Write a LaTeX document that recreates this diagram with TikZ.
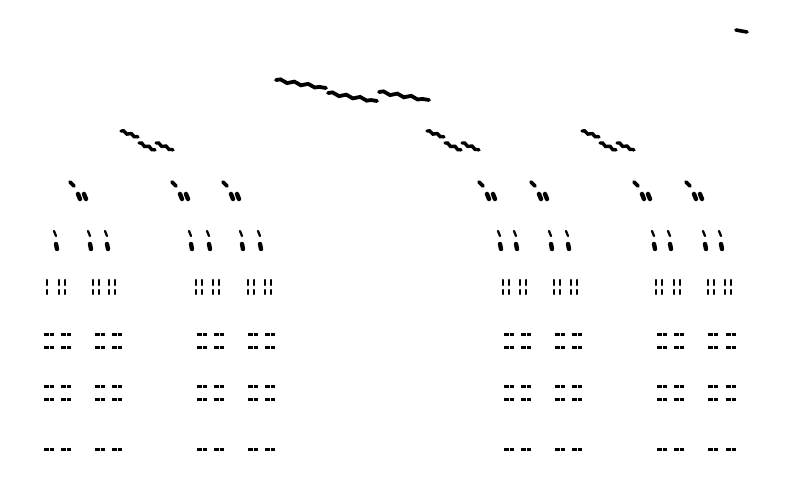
\documentclass[tikz,border=0pt]{standalone}
\usetikzlibrary{decorations.pathmorphing}

\begin{document}
\begin{tikzpicture}[
  x=1pt, y=-1pt,
  blob/.style={line width=3.6pt, line cap=round},
  bigblob/.style={line width=4.4pt, line cap=round},
  wave/.style={line width=3.8pt, line cap=round, decorate,
    decoration={snake, amplitude=1.3pt, segment length=14pt}},
  smallwave/.style={line width=3.4pt, line cap=round, decorate,
    decoration={snake, amplitude=1pt, segment length=8pt}},
  tickmark/.style={line width=2.3pt, line cap=round},
  barmark/.style={line width=3pt}
]
  \useasboundingbox (0,0) rectangle (792,482);

  \draw[blob] (736,30) -- (747,32);

  \draw[wave] (276,80) -- (326,88);
  \draw[wave] (328,93) -- (377,101);
  \draw[wave] (379,92) -- (429,100);

  \foreach \gx in {121,427,582} {
    \draw[smallwave] (\gx,131) -- (\gx+17,137);
    \draw[smallwave] (\gx+18,143) -- (\gx+34,150);
    \draw[smallwave] (\gx+35,143) -- (\gx+52,150);
  }

  \foreach \gx in {69,171,222,478,530,633,685} {
    \draw[blob] (\gx+1,182) -- (\gx+5,186);
    \draw[bigblob] (\gx+9,194) -- (\gx+11,199);
    \draw[bigblob] (\gx+15,194) -- (\gx+17,199);
  }

  \foreach \x in {53,87,104,188,206,239,257,497,513,548,565,651,667,702,718} {
    \draw[tickmark] (\x+1,231) -- (\x+3,236);
    \draw[bigblob] (\x+3,244) -- (\x+4,249);
  }

  \draw[tickmark] (47,280) -- (47,285) (47,290) -- (47,294);
  \foreach \x in {58,92,108,195,212,247,264,502,519,553,570,655,673,707,724} {
    \draw[tickmark] (\x+1,280) -- (\x+1,285) (\x+7,280) -- (\x+7,285);
    \draw[tickmark] (\x+1,290) -- (\x+1,294) (\x+7,290) -- (\x+7,294);
  }

  \foreach \x in {44,61,95,112,197,214,248,265,504,521,555,572,657,674,708,726} {
    \foreach \y in {334,347,386,399,449}
      \draw[barmark] (\x,\y) -- (\x+4.5,\y) (\x+5.5,\y) -- (\x+10,\y);
  }
\end{tikzpicture}
\end{document}
